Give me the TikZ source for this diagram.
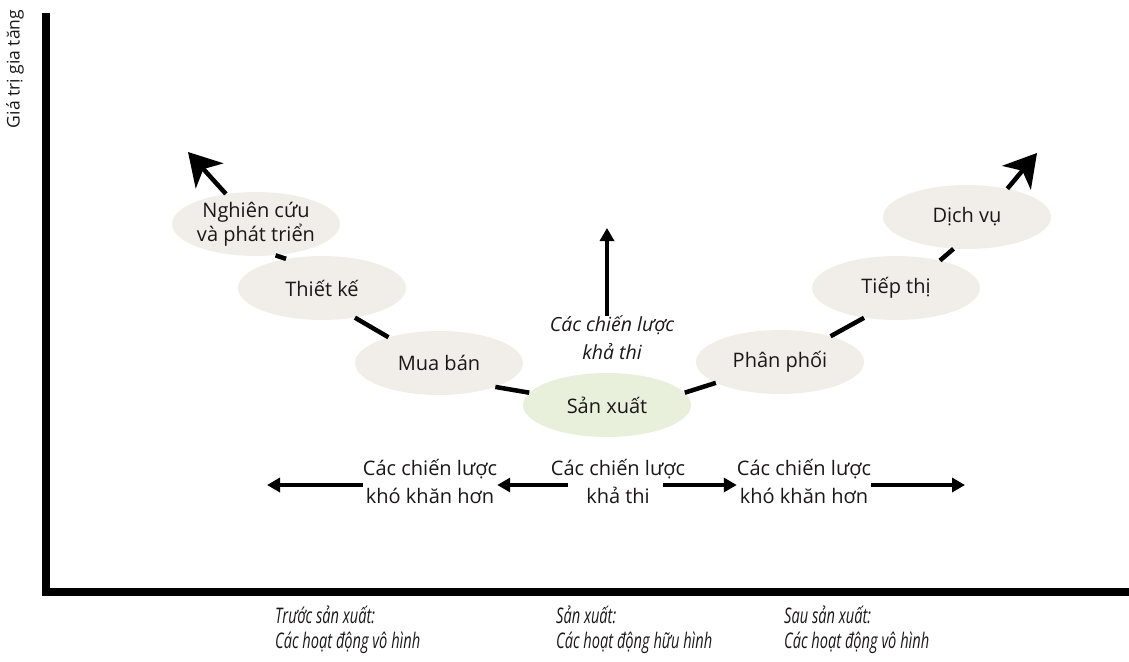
\documentclass[tikz,border=0pt]{standalone}
\usepackage{fontspec}
\setmainfont{Open Sans}
\usetikzlibrary{positioning,arrows.meta,shapes.geometric}
\definecolor{beige}{HTML}{F1EEE9}
\definecolor{pale}{HTML}{E8F0DC}
\definecolor{ink}{HTML}{1A1718}
\tikzset{
  stage/.style  = {ellipse, fill=beige, minimum width=168pt, minimum height=64pt,
                   inner sep=0pt, align=center, text=ink,
                   font=\fontsize{20}{24}\selectfont},
  core/.style   = {stage, fill=pale},
  link/.style   = {line width=4.5pt},
  trend/.style  = {line width=4.5pt, -{Stealth[length=32pt,width=37pt,inset=9pt]}},
  move/.style   = {line width=3.5pt, -{Triangle[length=13pt,width=14pt]}},
  lbl/.style    = {align=center, inner sep=0pt, text=ink,
                   font=\fontsize{20}{28}\selectfont},
  ilbl/.style   = {lbl, font=\itshape\fontsize{19.5}{28}\selectfont},
  phase/.style  = {anchor=north west, align=left, inner sep=0pt, text=ink,
                   font=\itshape\addfontfeature{FakeStretch=0.68}\fontsize{21.5}{25}\selectfont},
  axis/.style   = {line width=8pt, line join=miter},
}

\begin{document}
\begin{tikzpicture}[x=1pt,y=-1pt]
  \useasboundingbox (0,0) rectangle (1129,661);
  % axes
  \draw[axis] (45.5,13) -- (45.5,592) -- (1129,592);
  \node[rotate=90, inner sep=0pt, text=ink, font=\fontsize{17.5}{18}\selectfont] (yl) at (15,69) {Giá trị gia tăng};

  % value chain
  \node[stage] (rnd)    at (256,224) {Nghiên cứu\\và phát triển};
  \node[stage] (design) at (322,288) {Thiết kế};
  \node[stage] (buy)    at (439,363) {Mua bán};
  \node[core]  (make)   at (607,405) {Sản xuất};
  \node[stage] (dist)   at (780,362) {Phân phối};
  \node[stage] (mkt)    at (896,288) {Tiếp thị};
  \node[stage] (serv)   at (967,217) {Dịch vụ};
  \coordinate (tipL) at (188,152);
  \coordinate (tipR) at (1037,153);
  \draw[link] (rnd.-58) -- (design.141);
  \draw[link] (design.-42) -- (buy.153);
  \draw[link] (buy.-23) -- (make.171);
  \draw[link] (make.9) -- (dist.-162);
  \draw[link] (dist.27) -- (mkt.-137);
  \draw[link] (mkt.32) -- (serv.-113);
  \draw[trend] (rnd.135) -- (tipL);
  \draw[trend] (serv.35) -- (tipR);

  % upward strategy
  \node[ilbl] (mid) at (612,338) {Các chiến lược\\khả thi};
  \coordinate (up) at (607,228);
  \draw[move] (mid.north -| up) -- (up);

  % sideways strategies
  \node[lbl] (hardL) at (430,481) {Các chiến lược\\khó khăn hơn};
  \node[lbl] (feas)  at (618,481) {Các chiến lược\\khả thi};
  \node[lbl] (hardR) at (804,481) {Các chiến lược\\khó khăn hơn};
  \coordinate (farL)  at (267,485);
  \coordinate (farR)  at (965,485);
  \coordinate (feasL) at (568,485);
  \coordinate (feasR) at (663,485);
  \draw[move] (hardL.west |- farL) -- (farL);
  \draw[move] (feasL) -- (hardL.east |- feasL);
  \draw[move] (feasR) -- (hardR.west |- feasR);
  \draw[move] (hardR.east |- farR) -- (farR);

  % phases
  \node[phase] (pre)  at (275,606) {Trước sản xuất:\\Các hoạt động vô hình};
  \node[phase] (prod) at (556,606) {Sản xuất:\\Các hoạt động hữu hình};
  \node[phase] (post) at (784,606) {Sau sản xuất:\\Các hoạt động vô hình};
\end{tikzpicture}
\end{document}
